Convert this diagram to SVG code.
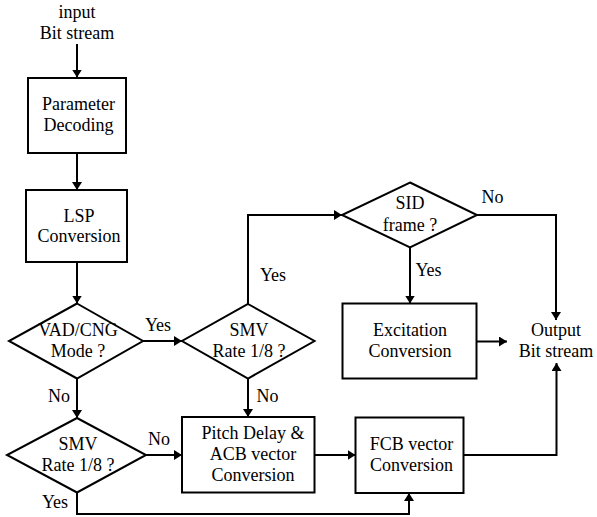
<svg xmlns="http://www.w3.org/2000/svg" width="597" height="517" viewBox="0 0 597 517">
<defs>
<style>
.n{fill:#fff;stroke:#000;stroke-width:2}
.c{fill:none;stroke:#000;stroke-width:2;marker-end:url(#ah)}
text{font-family:'Liberation Serif','DejaVu Serif',serif;font-size:18px;fill:#000;text-anchor:middle}
</style>
<marker id="ah" viewBox="0 0 8 10" refX="8" refY="5" markerWidth="8" markerHeight="10" orient="auto" markerUnits="userSpaceOnUse"><path d="M0,0 L8,5 L0,10 z" fill="#000"/></marker>
</defs>
<g id="connectors">
<path class="c" d="M77,44 V77.5"/>
<path class="c" d="M77,153 V190"/>
<path class="c" d="M77,262 V303.5"/>
<path class="c" d="M143,341 H182"/>
<path class="c" d="M77,378.5 V418"/>
<path class="c" d="M146,455 H182"/>
<path class="c" d="M77,492.5 V514 H409 V493"/>
<path class="c" d="M248,378.5 V417"/>
<path class="c" d="M248,304 V215 H342"/>
<path class="c" d="M410,247.5 V303.5"/>
<path class="c" d="M477,215 H556 V320"/>
<path class="c" d="M477,341.5 H507"/>
<path class="c" d="M314.5,455 H355.5"/>
<path class="c" d="M463.5,455 H556.5 V363"/>
</g>
<g id="labels">
<text x="77" y="18">input</text>
<text x="77" y="39">Bit stream</text>
<text x="158" y="331">Yes</text>
<text x="59" y="401.5">No</text>
<text x="159" y="445">No</text>
<text x="55" y="508">Yes</text>
<text x="267.5" y="401.5">No</text>
<text x="273" y="281">Yes</text>
<text x="492.5" y="203">No</text>
<text x="428.5" y="276">Yes</text>
</g>
<g id="param"><rect class="n" x="28" y="78" width="98" height="75"/><text x="78.5" y="110">Parameter</text><text x="78.5" y="131">Decoding</text></g>
<g id="lsp"><rect class="n" x="26" y="190" width="101" height="72"/><text x="79" y="221.5">LSP</text><text x="79" y="242">Conversion</text></g>
<g id="vad"><polygon class="n" points="77,303.5 143,341 77,378.5 9,341"/><text x="78" y="336">VAD/CNG</text><text x="78" y="356.5">Mode ?</text></g>
<g id="smv1"><polygon class="n" points="77,418 146,455 77,492.5 7,455"/><text x="78" y="450">SMV</text><text x="78" y="470.5">Rate 1/8 ?</text></g>
<g id="smv2"><polygon class="n" points="248,304 314.5,341 248,378.5 182,341"/><text x="249" y="336">SMV</text><text x="249" y="356.5">Rate 1/8 ?</text></g>
<g id="sid"><polygon class="n" points="410,182.5 477,215 410,247.5 342,215"/><text x="410" y="209">SID</text><text x="410" y="230.5">frame ?</text></g>
<g id="excitation"><rect class="n" x="342.5" y="303.5" width="134" height="75"/><text x="410" y="335.5">Excitation</text><text x="410" y="356.5">Conversion</text></g>
<g id="pitch"><rect class="n" x="182" y="417" width="132.5" height="75.5"/><text x="253" y="439">Pitch Delay &amp;</text><text x="253" y="460">ACB vector</text><text x="253" y="480.5">Conversion</text></g>
<g id="fcb"><rect class="n" x="355.5" y="417.5" width="108" height="75.5"/><text x="411.5" y="450">FCB vector</text><text x="411.5" y="470.5">Conversion</text></g>
<g id="output"><text x="556" y="335.5">Output</text><text x="556" y="356.5">Bit stream</text></g>
</svg>
